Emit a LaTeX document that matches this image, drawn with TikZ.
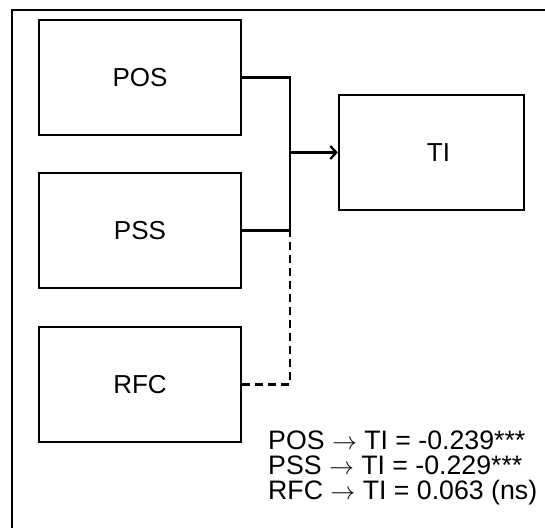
\documentclass[tikz,border=0pt]{standalone}
\usepackage{fontspec}
\setmainfont{Liberation Sans}
\usetikzlibrary{arrows.meta}
\begin{document}
\begin{tikzpicture}[x=1pt,y=-1pt,
  box/.style={draw=black,line width=2.3pt,minimum width=202pt,minimum height=115pt,inner sep=0pt,font=\fontsize{26}{30}\selectfont},
  conn/.style={draw=black,line width=2.3pt},
  dconn/.style={draw=black,line width=2.3pt,dash pattern=on 8pt off 5pt},
  res/.style={anchor=base west,inner sep=0pt,font=\fontsize{26.7}{27}\selectfont}]
\useasboundingbox (0,0) rectangle (545,527);
\fill[white] (0,0) rectangle (545,527);
\draw[line width=2.3pt] (12,560) -- (12,10) -- (580,10);
\node[box] (pos) at (140,77.5) {POS};
\node[box] (pss) at (140,230.5) {PSS};
\node[box] (rfc) at (140,384.5) {RFC};
\node[box,minimum width=185pt,text width=185pt,align=center] (ti) at (431.5,152.5) {\hspace*{14pt}TI};
\coordinate (j) at (290,152.5);
\draw[conn] (pos.east) -| (j);
\draw[conn] (pss.east) -| (j);
\draw[dconn] (rfc.east) -| (j);
\draw[conn,-{Straight Barb[length=6pt,width=13pt,line width=2.3pt]}] (j) -- (ti.west);
\node[res] (r1) at (268,449) {POS $\rightarrow$ TI = -0.239***};
\node[res] (r2) at (268,474) {PSS $\rightarrow$ TI = -0.229***};
\node[res] (r3) at (268,499) {RFC $\rightarrow$ TI = 0.063 (ns)};
\end{tikzpicture}
\end{document}
